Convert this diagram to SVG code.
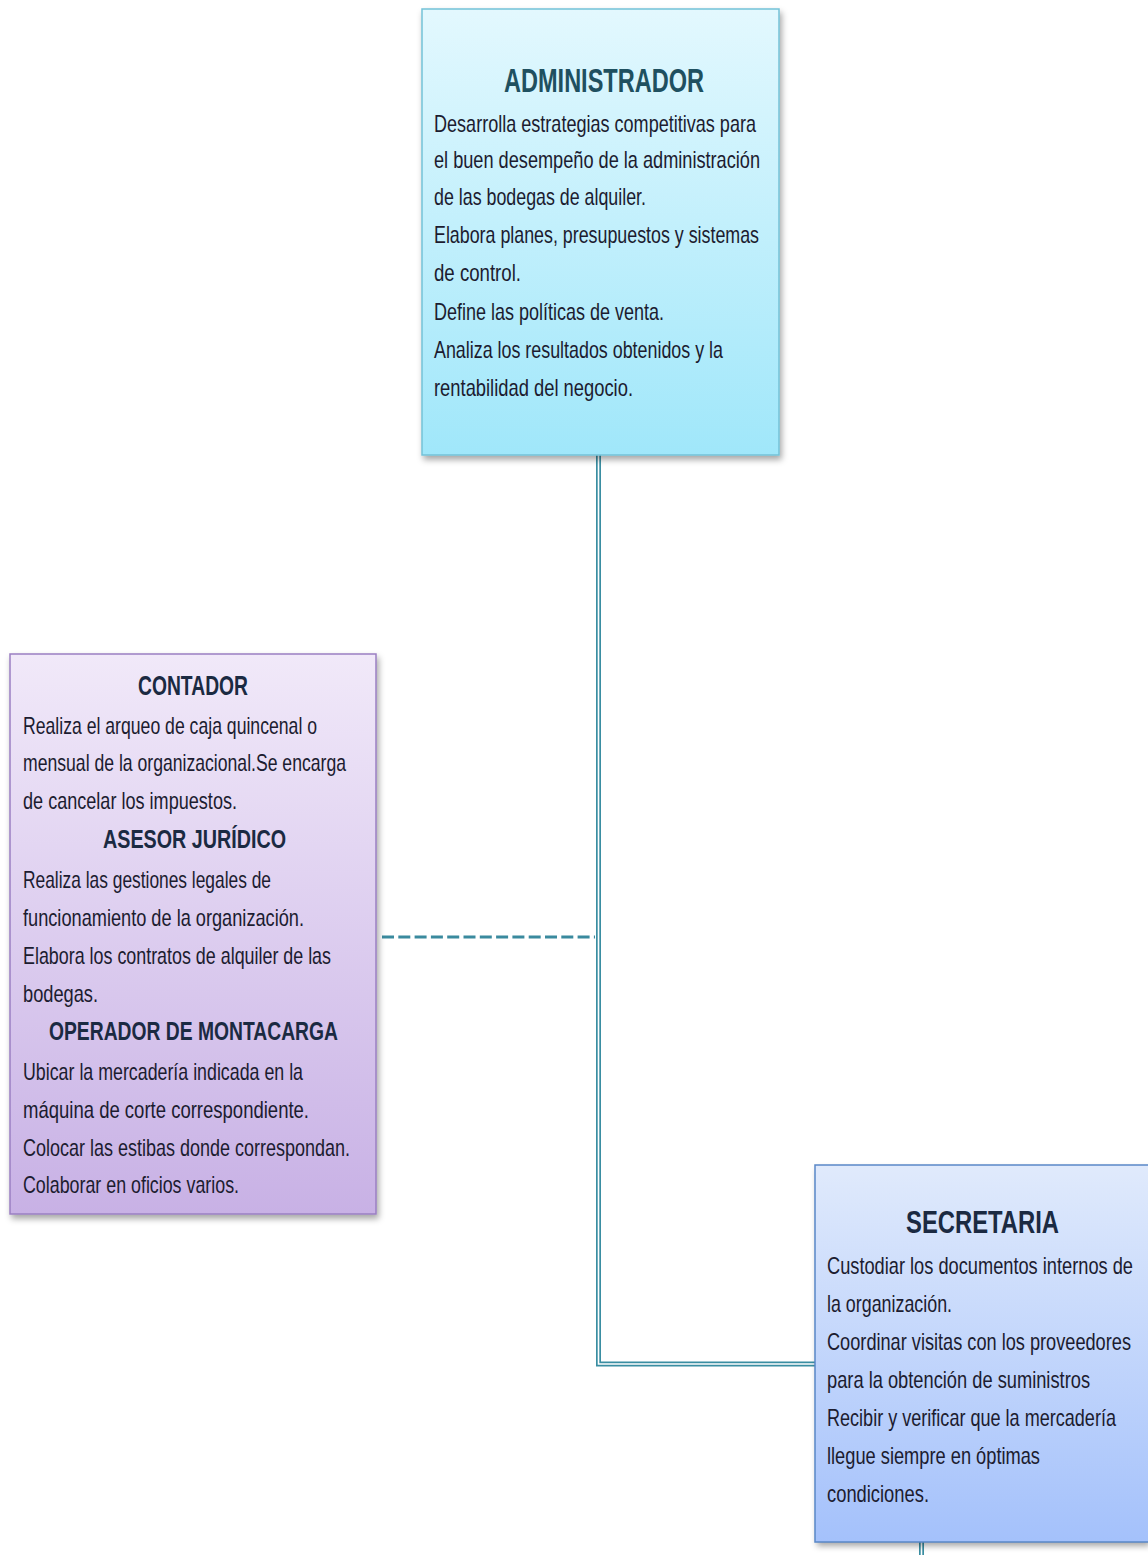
<svg xmlns="http://www.w3.org/2000/svg" width="1148" height="1555" viewBox="0 0 1148 1555">
<defs>
<linearGradient id="gAdm" x1="0" y1="0" x2="0" y2="1"><stop offset="0" stop-color="#e3f8fe"/><stop offset="1" stop-color="#a0e7fa"/></linearGradient>
<linearGradient id="gCon" x1="0" y1="0" x2="0" y2="1"><stop offset="0" stop-color="#f1e9f9"/><stop offset="1" stop-color="#c8b1e5"/></linearGradient>
<linearGradient id="gSec" x1="0" y1="0" x2="0" y2="1"><stop offset="0" stop-color="#e0eafc"/><stop offset="1" stop-color="#a4c1fb"/></linearGradient>
<filter id="sh" x="-10%" y="-10%" width="125%" height="125%"><feDropShadow dx="2" dy="4" stdDeviation="3" flood-color="#000" flood-opacity="0.35"/></filter>
</defs>
<style>
.body{font-family:"Liberation Sans",Arial,sans-serif;font-size:24px;fill:#1c1c30}
.title{font-family:"Liberation Sans",Arial,sans-serif;font-weight:bold;fill:#1b2a42}
.dbl{fill:none;stroke:#3a8ea2;stroke-width:5}
.dblw{fill:none;stroke:#ffffff;stroke-width:1.6}
</style>
<rect width="1148" height="1555" fill="#ffffff"/>
<g id="connectors">
<path class="dbl" d="M598.5,455 V1364 H815"/>
<path class="dblw" d="M598.5,455 V1364 H815"/>
<path class="dbl" d="M921.5,1542 V1555"/>
<path class="dblw" d="M921.5,1542 V1555"/>
<line x1="382" y1="937" x2="595" y2="937" stroke="#3a8a9e" stroke-width="3" stroke-dasharray="12 4.3"/>
</g>
<g id="administrador">
<rect x="422" y="9" width="357" height="446" fill="url(#gAdm)" stroke="#74c2d7" stroke-width="1.5" filter="url(#sh)"/>
<text class="title" x="504" y="92" font-size="33" textLength="200" lengthAdjust="spacingAndGlyphs" style="fill:#1f5060">ADMINISTRADOR</text>
<text class="body" x="434" y="132" textLength="322" lengthAdjust="spacingAndGlyphs">Desarrolla estrategias competitivas para</text>
<text class="body" x="434" y="168" textLength="326" lengthAdjust="spacingAndGlyphs">el buen desempeño de la administración</text>
<text class="body" x="434" y="205" textLength="212" lengthAdjust="spacingAndGlyphs">de las bodegas de alquiler.</text>
<text class="body" x="434" y="243" textLength="325" lengthAdjust="spacingAndGlyphs">Elabora planes, presupuestos y sistemas</text>
<text class="body" x="434" y="281" textLength="87" lengthAdjust="spacingAndGlyphs">de control.</text>
<text class="body" x="434" y="320" textLength="230" lengthAdjust="spacingAndGlyphs">Define las políticas  de venta.</text>
<text class="body" x="434" y="358" textLength="289" lengthAdjust="spacingAndGlyphs">Analiza los resultados obtenidos y la</text>
<text class="body" x="434" y="396" textLength="199" lengthAdjust="spacingAndGlyphs">rentabilidad del negocio.</text>
</g>
<g id="contador">
<rect x="10" y="654" width="366" height="560" fill="url(#gCon)" stroke="#9a7fc2" stroke-width="1.5" filter="url(#sh)"/>
<text class="title" x="138" y="695" font-size="28" textLength="110" lengthAdjust="spacingAndGlyphs">CONTADOR</text>
<text class="body" x="23" y="734" textLength="294" lengthAdjust="spacingAndGlyphs">Realiza el arqueo de caja quincenal o</text>
<text class="body" x="23" y="771" textLength="323" lengthAdjust="spacingAndGlyphs">mensual de la organizacional.Se encarga</text>
<text class="body" x="23" y="809" textLength="214" lengthAdjust="spacingAndGlyphs">de cancelar los impuestos.</text>
<text class="title" x="103" y="848" font-size="26" textLength="183" lengthAdjust="spacingAndGlyphs">ASESOR  JURÍDICO</text>
<text class="body" x="23" y="888" textLength="248" lengthAdjust="spacingAndGlyphs">Realiza las gestiones legales de</text>
<text class="body" x="23" y="926" textLength="281" lengthAdjust="spacingAndGlyphs">funcionamiento de la organización.</text>
<text class="body" x="23" y="964" textLength="308" lengthAdjust="spacingAndGlyphs">Elabora los  contratos de alquiler de las</text>
<text class="body" x="23" y="1002" textLength="75" lengthAdjust="spacingAndGlyphs">bodegas.</text>
<text class="title" x="49" y="1040" font-size="26" textLength="289" lengthAdjust="spacingAndGlyphs">OPERADOR  DE  MONTACARGA</text>
<text class="body" x="23" y="1080" textLength="280" lengthAdjust="spacingAndGlyphs">Ubicar la mercadería indicada en la</text>
<text class="body" x="23" y="1118" textLength="286" lengthAdjust="spacingAndGlyphs">máquina de corte correspondiente.</text>
<text class="body" x="23" y="1156" textLength="327" lengthAdjust="spacingAndGlyphs">Colocar las estibas donde correspondan.</text>
<text class="body" x="23" y="1193" textLength="216" lengthAdjust="spacingAndGlyphs">Colaborar en oficios varios.</text>
</g>
<g id="secretaria">
<rect x="815" y="1165" width="333" height="377" fill="url(#gSec)" filter="url(#sh)"/>
<path d="M1148,1165 H815 V1542 H1148" fill="none" stroke="#5a88c8" stroke-width="1.5"/>
<text class="title" x="906" y="1233" font-size="32" textLength="153" lengthAdjust="spacingAndGlyphs">SECRETARIA</text>
<g transform="translate(827 0) scale(0.75 1)">
<text class="body" x="0" y="1274" textLength="408" lengthAdjust="spacingAndGlyphs">Custodiar los documentos internos de</text>
<text class="body" x="0" y="1312" textLength="166.7" lengthAdjust="spacingAndGlyphs">la organización.</text>
<text class="body" x="0" y="1350" textLength="405.3" lengthAdjust="spacingAndGlyphs">Coordinar visitas con los proveedores</text>
<text class="body" x="0" y="1388" textLength="350.7" lengthAdjust="spacingAndGlyphs">para la obtención de suministros</text>
<text class="body" x="0" y="1426" textLength="385.3" lengthAdjust="spacingAndGlyphs">Recibir y verificar que la mercadería</text>
<text class="body" x="0" y="1464" textLength="284" lengthAdjust="spacingAndGlyphs">llegue siempre en óptimas</text>
<text class="body" x="0" y="1502" textLength="136" lengthAdjust="spacingAndGlyphs">condiciones.</text>
</g>
</g>
</svg>
